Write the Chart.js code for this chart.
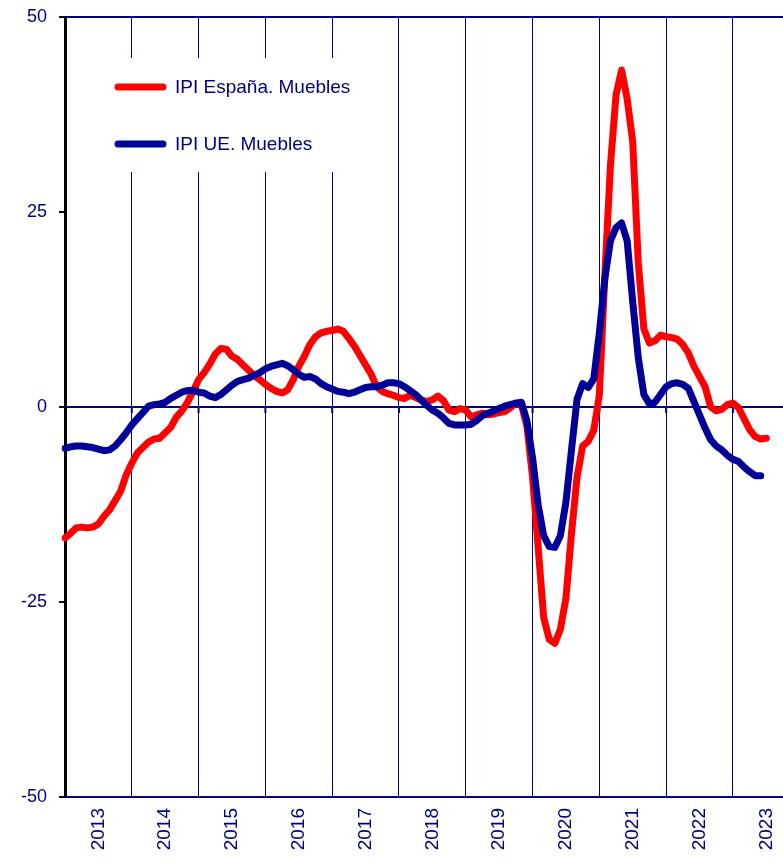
<!DOCTYPE html>
<html>
<head>
<meta charset="utf-8">
<script src="https://cdn.jsdelivr.net/npm/chart.js@4/dist/chart.umd.min.js"></script>
<style>
    html, body { margin: 0; padding: 0; background: #fff; }
    #wrap { width: 783px; height: 858px; }
</style>
</head>
<body>
<div id="wrap"><canvas id="ipiChart" width="783" height="858"></canvas></div>
<script>
// Years shown on the axis and monthly categories (Jan 2013 .. Oct 2023)
const years = ['2013', '2014', '2015', '2016', '2017', '2018', '2019', '2020', '2021', '2022', '2023'];
const monthNums = ['01', '02', '03', '04', '05', '06', '07', '08', '09', '10', '11', '12'];
const months = [];
years.forEach(y => monthNums.forEach(m => months.push(y + '-' + m)));
months.length = 130;

const yTicks = [50, 25, 0, -25, -50];

// IPI España. Muebles (monthly, from Jan 2013)
const spainValues = [
    -16.8, -16.2, -15.5, -15.4, -15.5, -15.4, -15.0, -14.0, -13.2, -12.0,
    -10.8, -8.7, -7.2, -5.9, -5.2, -4.5, -4.1, -4.0, -3.3, -2.6,
    -1.3, -0.5, 0.6, 2.0, 3.5, 4.4, 5.5, 6.8, 7.5, 7.4,
    6.5, 6.1, 5.4, 4.7, 4.0, 3.5, 2.9, 2.4, 2.0, 1.8,
    2.2, 3.5, 5.2, 6.5, 8.0, 9.0, 9.5, 9.7, 9.8, 10.0,
    9.7, 8.8, 7.8, 6.6, 5.4, 4.2, 2.6, 2.0, 1.7, 1.5,
    1.2, 1.1, 1.5, 1.2, 0.9, 0.7, 0.9, 1.4, 0.8, -0.4,
    -0.6, -0.2, -0.4, -1.3, -1.0, -0.8, -1.0, -0.9, -0.7, -0.6,
    -0.1, 0.5, 0.3, -2.5, -9.0, -17.9, -27.0, -29.8, -30.3, -28.5,
    -24.5, -16.2, -9.0, -5.0, -4.4, -3.0, 1.5, 17.0, 31.0, 40.0,
    43.2, 39.5, 34.0, 18.5, 10.0, 8.2, 8.5, 9.2, 9.0, 8.9,
    8.7, 8.0, 6.9, 5.2, 3.9, 2.6, 0.0, -0.5, -0.3, 0.3,
    0.5, -0.1, -1.5, -2.9, -3.8, -4.1, -4.0
];

// IPI UE. Muebles (monthly, from Jan 2013)
const euValues = [
    -5.3, -5.1, -5.0, -5.0, -5.1, -5.2, -5.4, -5.6, -5.5, -5.0,
    -4.2, -3.3, -2.3, -1.5, -0.7, 0.1, 0.3, 0.4, 0.6, 1.1,
    1.5, 1.9, 2.1, 2.1, 1.9, 1.8, 1.4, 1.2, 1.6, 2.2,
    2.8, 3.3, 3.5, 3.7, 4.1, 4.4, 4.9, 5.2, 5.4, 5.6,
    5.3, 4.8, 4.2, 3.8, 3.9, 3.6, 3.0, 2.6, 2.3, 2.0,
    1.9, 1.7, 1.9, 2.2, 2.5, 2.6, 2.6, 2.8, 3.1, 3.1,
    3.0, 2.6, 2.1, 1.6, 0.9, 0.2, -0.4, -0.8, -1.4, -2.1,
    -2.3, -2.3, -2.3, -2.2, -1.7, -1.1, -0.8, -0.5, -0.2, 0.1,
    0.3, 0.5, 0.6, -1.8, -6.5, -12.5, -16.5, -17.9, -18.0, -16.5,
    -12.2, -5.5, 1.0, 3.0, 2.5, 3.6, 9.5, 16.5, 21.3, 23.0,
    23.6, 21.3, 13.5, 6.3, 1.6, 0.4, 0.6, 1.6, 2.6, 3.0,
    3.1, 2.9, 2.4, 0.7, -1.0, -2.7, -4.2, -5.0, -5.5, -6.2,
    -6.7, -7.0, -7.7, -8.3, -8.8, -8.8
];

const NAVY = '#000080';
const RED = '#ff0000';
const BLUE = '#000099';
const FONT = "'Liberation Sans', Arial, sans-serif";

// Legend box inside the plot area + small ticks on the zero line
const innerLegend = {
    id: 'innerLegend',
    beforeDatasetsDraw(chart) {
        const { ctx, chartArea, scales } = chart;
        const xs = scales.x, ys = scales.y;
        const y0 = ys.getPixelForValue(0);

        ctx.save();
        // tick marks under the zero line, at each year boundary
        ctx.strokeStyle = NAVY;
        ctx.lineWidth = 2;
        months.forEach((m, i) => {
            if (i > 0 && i % 12 === 0) {
                const x = xs.getPixelForValue(i);
                ctx.beginPath();
                ctx.moveTo(x, y0);
                ctx.lineTo(x, y0 + 6);
                ctx.stroke();
            }
        });

        // white box hiding the gridlines behind the legend
        const bx = chartArea.left + 35, by = chartArea.top + 41;
        ctx.fillStyle = '#fff';
        ctx.fillRect(bx, by, 270, 114);

        ctx.font = '19px ' + FONT;
        ctx.textBaseline = 'middle';
        ctx.lineCap = 'round';
        chart.data.datasets.forEach((ds, i) => {
            const ly = chartArea.top + 70 + i * 57;
            ctx.strokeStyle = ds.borderColor;
            ctx.lineWidth = 7;
            ctx.beginPath();
            ctx.moveTo(chartArea.left + 53, ly);
            ctx.lineTo(chartArea.left + 98, ly);
            ctx.stroke();
            ctx.fillStyle = NAVY;
            ctx.fillText(ds.label, chartArea.left + 110, ly + 1);
        });
        ctx.restore();
    }
};

const ctx = document.getElementById('ipiChart');
new Chart(ctx, {
    type: 'line',
    data: {
        labels: months,
        datasets: [{
            label: 'IPI España. Muebles',
            data: spainValues,
            borderColor: RED,
            borderWidth: 7,
            borderJoinStyle: 'round',
            borderCapStyle: 'round',
            pointRadius: 0,
            tension: 0,
            order: 1
        }, {
            label: 'IPI UE. Muebles',
            data: euValues,
            borderColor: BLUE,
            borderWidth: 7,
            borderJoinStyle: 'round',
            borderCapStyle: 'round',
            pointRadius: 0,
            tension: 0,
            order: 0
        }]
    },
    options: {
        responsive: false,
        animation: false,
        devicePixelRatio: 1,
        layout: { padding: { top: 17, right: 0, left: 0, bottom: 0 } },
        plugins: {
            legend: { display: false },
            tooltip: { enabled: false }
        },
        scales: {
            x: {
                grid: {
                    drawTicks: false,
                    color: c => (c.index > 0 && c.index % 12 === 0) ? NAVY : 'transparent',
                    lineWidth: 1
                },
                border: { color: NAVY, width: 2 },
                ticks: {
                    autoSkip: false,
                    maxRotation: 90,
                    minRotation: 90,
                    padding: 11,
                    color: NAVY,
                    font: { family: FONT, size: 19 },
                    callback: (v, i) => (months[i] && months[i].endsWith('-07')) ? months[i].slice(0, 4) : ''
                },
                afterFit: s => {
                    s.height = 61;
                    s.paddingLeft = 0;
                    s.paddingRight = 0;
                }
            },
            y: {
                min: -50,
                max: 50,
                afterBuildTicks: s => { s.ticks = yTicks.map(v => ({ value: v })); },
                grid: {
                    color: c => (c.tick.value === 0 || c.tick.value === 50) ? NAVY : 'transparent',
                    lineWidth: 2,
                    tickColor: '#000',
                    tickLength: 6
                },
                border: { color: '#000', width: 3 },
                ticks: {
                    padding: 12,
                    color: NAVY,
                    font: { family: FONT, size: 18 }
                },
                afterFit: s => {
                    s.width = 65;
                    s.paddingTop = 0;
                    s.paddingBottom = 0;
                }
            }
        }
    },
    plugins: [innerLegend]
});
</script>
</body>
</html>
